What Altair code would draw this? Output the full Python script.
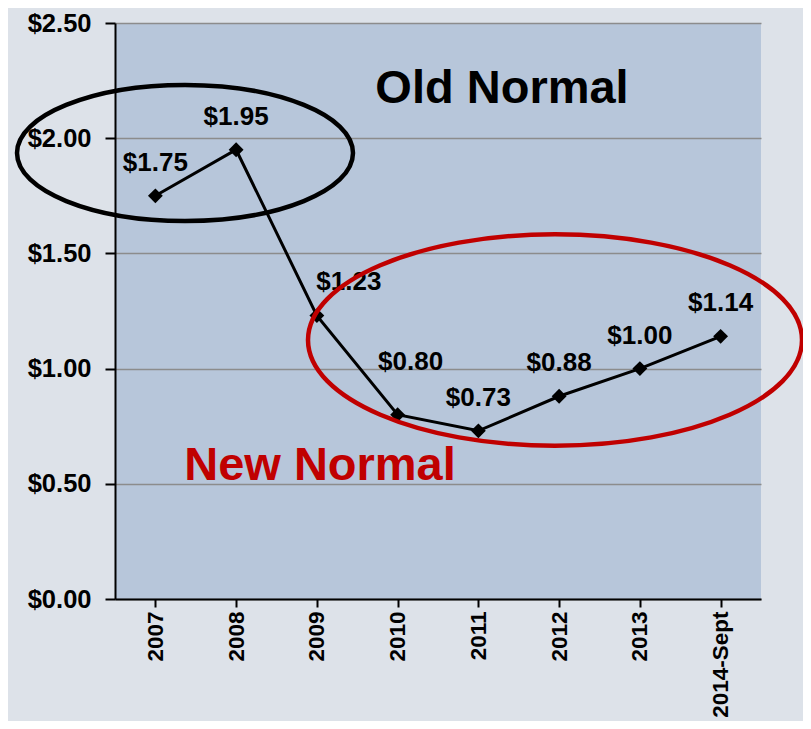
import altair as alt
import pandas as pd

years = ["2007", "2008", "2009", "2010", "2011", "2012", "2013", "2014-Sept"]
values = [1.75, 1.95, 1.23, 0.80, 0.73, 0.88, 1.00, 1.14]
labels = ["$1.75", "$1.95", "$1.23", "$0.80", "$0.73", "$0.88", "$1.00", "$1.14"]
y_ticks = [0, 0.5, 1.0, 1.5, 2.0, 2.5]

df = pd.DataFrame({"year": years, "value": values, "label": labels})
one = pd.DataFrame({"k": [0]})

FONT = "Liberation Sans"
W, H = 646, 576

x = alt.X(
    "year:N", sort=years,
    scale=alt.Scale(type="point", padding=0.5),
    axis=alt.Axis(title=None, labelAngle=270, labelFontSize=22.5, labelFontWeight="bold",
                  labelFont=FONT, labelColor="black", domainColor="black", domainWidth=2,
                  tickColor="black", tickWidth=2, tickSize=8, labelPadding=4, grid=False),
)
y = alt.Y(
    "value:Q",
    scale=alt.Scale(domain=[0, 2.5], nice=False, zero=True),
    axis=alt.Axis(title=None, values=y_ticks, format="$.2f", labelFontSize=25.5,
                  labelFontWeight="bold", labelFont=FONT, labelColor="black",
                  labelPadding=14, tickSize=10, tickColor="black", tickWidth=2,
                  domainColor="black", domainWidth=2, grid=True,
                  gridColor="#8c8c8c", gridWidth=1.5),
)

base = alt.Chart(df)
line = base.mark_line(color="black", strokeWidth=3).encode(x=x, y=y)
pts = base.mark_point(shape="diamond", filled=True, color="black", size=220, opacity=1).encode(x=x, y=y)

lab_style = dict(fontSize=26, fontWeight="bold", font=FONT, color="black", baseline="middle")
lab_main = base.mark_text(dy=-33, **lab_style).encode(x=x, y=y, text="label:N").transform_filter(
    "datum.year != '2009' && datum.year != '2010'")
lab_2009 = base.mark_text(dx=32, dy=-34, **lab_style).encode(x=x, y=y, text="label:N").transform_filter(
    "datum.year == '2009'")
lab_2010 = base.mark_text(dx=13, dy=-53, **lab_style).encode(x=x, y=y, text="label:N").transform_filter(
    "datum.year == '2010'")

ann = alt.Chart(one)
old_txt = ann.mark_text(text="Old Normal", fontSize=47, fontWeight="bold", font=FONT,
                        color="black", baseline="middle", align="center").encode(
    x=alt.value(387), y=alt.value(66))
new_txt = ann.mark_text(text="New Normal", fontSize=47, fontWeight="bold", font=FONT,
                        color="#c00000", baseline="middle", align="center").encode(
    x=alt.value(205), y=alt.value(443))

black_ell = ann.mark_point(
    shape="M -1 0 A 1 0.405 0 1 1 1 0 A 1 0.405 0 1 1 -1 0 Z",
    size=336 * 336, filled=False, stroke="black", strokeWidth=4.5, opacity=1,
).encode(x=alt.value(70), y=alt.value(130))
red_ell = ann.mark_point(
    shape="M -1 0 A 1 0.428 0 1 1 1 0 A 1 0.428 0 1 1 -1 0 Z",
    size=494 * 494, filled=False, stroke="#c00000", strokeWidth=4.5, opacity=1,
).encode(x=alt.value(440), y=alt.value(317))

chart = alt.layer(
    line, pts, lab_main, lab_2009, lab_2010, old_txt, new_txt, black_ell, red_ell
).properties(
    width=W, height=H,
    autosize=alt.AutoSizeParams(type="none"),
    padding={"left": 107, "top": 15, "right": 42, "bottom": 122},
    background="#dde2e9",
).configure_view(fill="#b7c6da", strokeWidth=0)

chart.save("out.html", embed_options={"renderer": "svg", "actions": False})
